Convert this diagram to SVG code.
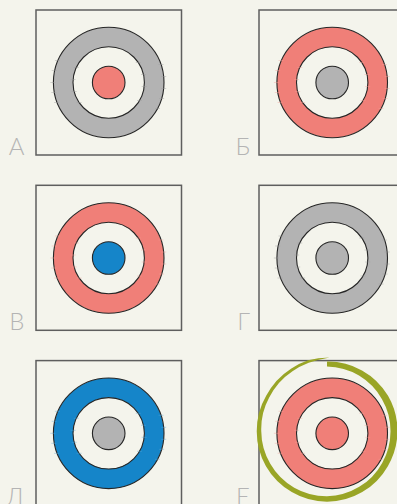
<svg xmlns="http://www.w3.org/2000/svg" xmlns:xlink="http://www.w3.org/1999/xlink" width="397" height="504" viewBox="0 0 397 504">
<style>
.bg{fill:#f4f4ec}
.box{fill:#f4f4ec;stroke:#5e5e5e;stroke-width:1.5}
.c{stroke:#262626;stroke-width:1.1}
.gray{fill:#b3b3b3}
.red{fill:#f07f78}
.blue{fill:#1585c9}
.hole{fill:#f4f4ec}
.lbl{font-family:Lato,"Open Sans","DejaVu Sans",sans-serif;font-weight:300;font-size:24px;fill:#b4b4b4;text-anchor:end}
.brush{fill:#99a526}
</style>
<defs>
<g id="ticks" stroke="currentColor" stroke-width="0.8" opacity="0.5" fill="none">
<path d="M-53.7-22h5M-57-12h5M-58.3 0h5M-57.4 10h5M-54.6 20h5"/>
<path d="M49.8-18h5M52.5-6h5M52.5 6h5M50.4 16h5M46.3 26h5"/>
<path d="M-34.9-15h5M-38.1-3h5M-37 9h5M-32.1 20h5"/>
<path d="M27.1-20h5M32.3-8h5M33 4h5M28.3 18h5"/>
</g>
</defs>
<rect class="bg" x="0" y="0" width="397" height="504"/>

<g id="panel-A">
<rect class="box" x="36" y="10" width="145.5" height="145"/>
<circle class="c gray" cx="108.7" cy="82.5" r="55.3"/>
<circle class="c hole" cx="108.7" cy="82.5" r="35.7"/>
<circle class="c red" cx="108.7" cy="82.5" r="16.3"/>
<use xlink:href="#ticks" href="#ticks" x="108.7" y="82.5" style="color:#9a9a9a"/>
<text class="lbl" x="24.5" y="154.8">А</text>
</g>

<g id="panel-B">
<rect class="box" x="259" y="10" width="145.5" height="145"/>
<circle class="c red" cx="332.2" cy="82.5" r="55.3"/>
<circle class="c hole" cx="332.2" cy="82.5" r="35.7"/>
<circle class="c gray" cx="332.2" cy="82.5" r="16.3"/>
<use xlink:href="#ticks" href="#ticks" x="332.2" y="82.5" style="color:#f2a19b"/>
<text class="lbl" x="250" y="154.8">Б</text>
</g>

<g id="panel-V">
<rect class="box" x="36" y="185.3" width="145.5" height="145"/>
<circle class="c red" cx="108.7" cy="258" r="55.3"/>
<circle class="c hole" cx="108.7" cy="258" r="35.7"/>
<circle class="c blue" cx="108.7" cy="258" r="16.3"/>
<use xlink:href="#ticks" href="#ticks" x="108.7" y="258" style="color:#f2a19b"/>
<text class="lbl" x="24.5" y="330.1">В</text>
</g>

<g id="panel-G">
<rect class="box" x="259" y="185.3" width="145.5" height="145"/>
<circle class="c gray" cx="332.2" cy="258" r="55.3"/>
<circle class="c hole" cx="332.2" cy="258" r="35.7"/>
<circle class="c gray" cx="332.2" cy="258" r="16.3"/>
<use xlink:href="#ticks" href="#ticks" x="332.2" y="258" style="color:#9a9a9a"/>
<text class="lbl" x="250" y="330.1">Г</text>
</g>

<g id="panel-D">
<rect class="box" x="36" y="360.6" width="145.5" height="145"/>
<circle class="c blue" cx="108.7" cy="433.3" r="55.3"/>
<circle class="c hole" cx="108.7" cy="433.3" r="35.7"/>
<circle class="c gray" cx="108.7" cy="433.3" r="16.3"/>
<use xlink:href="#ticks" href="#ticks" x="108.7" y="433.3" style="color:#5fa9d8"/>
<text class="lbl" x="24.5" y="505.4">Д</text>
</g>

<g id="panel-E">
<rect class="box" x="259" y="360.6" width="145.5" height="145"/>
<circle class="c red" cx="332.2" cy="433.3" r="55.3"/>
<circle class="c hole" cx="332.2" cy="433.3" r="35.7"/>
<circle class="c red" cx="332.2" cy="433.3" r="16.3"/>
<use xlink:href="#ticks" href="#ticks" x="332.2" y="433.3" style="color:#f2a19b"/>
<path class="brush" d="M327 361.5A69.75 69.75 0 0 1 362 370.38A70.25 70.25 0 0 1 388.05 395.75A70.5 70.5 0 0 1 397.5 431A70.4 70.4 0 0 1 387.84 466.13A70.4 70.4 0 0 1 362.25 492.05A70.6 70.6 0 0 1 327 501.75A70.6 70.6 0 0 1 291.75 492.05A70.5 70.5 0 0 1 265.95 466.25A70.4 70.4 0 0 1 256.75 431A70.25 70.25 0 0 1 266.16 395.87A71 71 0 0 1 291 368.65A72.6 72.6 0 0 1 308.04 360.25Q318 357.6 329.57 357.54Q319 359.5 308.69 362.66A70 70 0 0 0 292.5 371.24A68 68 0 0 0 269.19 397.62A66.2 66.2 0 0 0 261.25 431A65.6 65.6 0 0 0 270.28 463.75A65.5 65.5 0 0 0 294.25 487.72A65.4 65.4 0 0 0 327 496.25A64.9 64.9 0 0 0 359.25 486.86A64.1 64.1 0 0 0 382.21 462.88A63.6 63.6 0 0 0 390.5 431A63.5 63.5 0 0 0 381.99 399.25A63.75 63.75 0 0 0 359 375.57A64.25 64.25 0 0 0 327 366.5Z"/>
<text class="lbl" x="250" y="505.4">Е</text>
</g>
</svg>
